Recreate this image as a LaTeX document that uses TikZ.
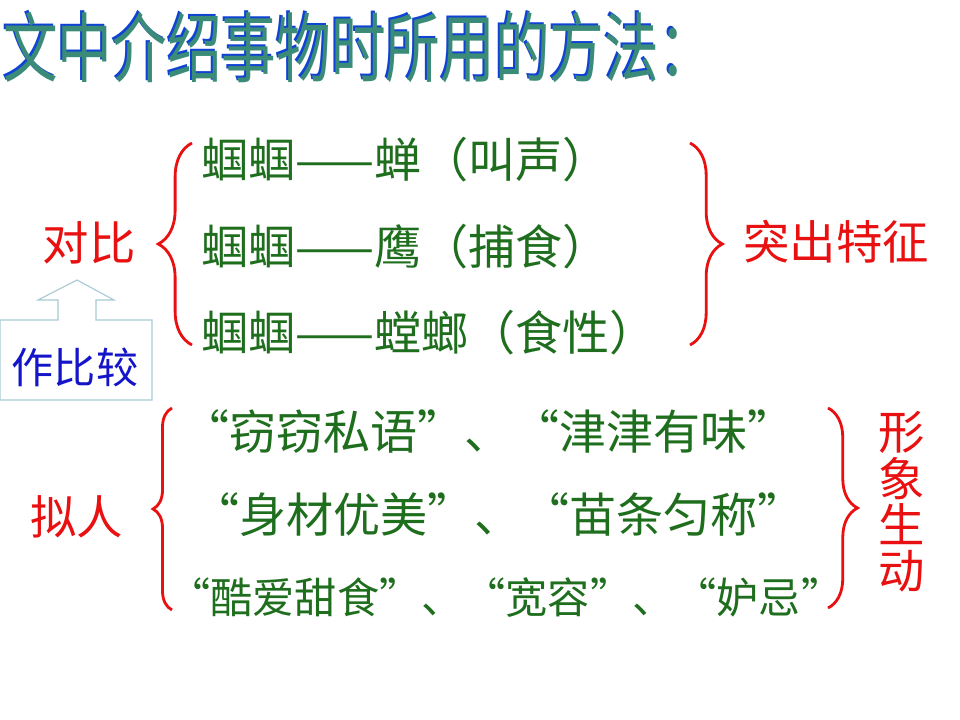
\documentclass[tikz,border=0pt]{standalone}
\usepackage{xcolor}
\usepackage{fontspec}
\setmainfont{Noto Sans CJK SC}
\usetikzlibrary{decorations.pathreplacing, positioning, calc}

\definecolor{lue}{HTML}{1E6E1E}
\definecolor{cerv}{HTML}{E81010}
\definecolor{modr}{HTML}{1414C8}
\definecolor{tyrk}{HTML}{3A8C78}
\definecolor{ramec}{HTML}{A8CAD4}

\tikzset{
  radek/.style={anchor=west, text=lue, inner sep=0pt, font=\fontsize{33.5}{38}\selectfont},
  pojem/.style={text=cerv, inner sep=0pt, font=\fontsize{33}{38}\selectfont},
  zavorka/.style={draw=cerv, line width=2pt, decorate, decoration={brace, amplitude=#1}}
}

\begin{document}
\begin{tikzpicture}[x=0.025cm, y=-0.025cm]
  \useasboundingbox (0,0) rectangle (960,720);

  % Nadpis
  \node[anchor=west, text=modr!80!cyan, inner sep=0pt, xscale=0.72,
        font=\fontsize{54}{58}\selectfont] (nadpisS) at (1,46) {文中介绍事物时所用的方法：};
  \node[anchor=west, text=tyrk, inner sep=0pt, xscale=0.72,
        font=\fontsize{54}{58}\selectfont] (nadpis) at (3,48) {文中介绍事物时所用的方法：};

  % Srovnani
  \node[radek] (r1) at (201,160) {蝈蝈——蝉（叫声）};
  \node[radek] (r2) at (201,247) {蝈蝈——鹰（捕食）};
  \node[radek] (r3) at (201,333) {蝈蝈——螳螂（食性）};
  \draw[zavorka=24pt] (192,345) -- (192,143);
  \draw[zavorka=23pt] (690,143) -- (690,345);
  \node[pojem] (dui) at (89,243) {对比};
  \node[pojem, anchor=west] (tu) at (743,242) {突出特征};

  % Ramecek se sipkou
  \draw[ramec, line width=0.8pt] (0,320) -- (58,320) -- (58,300) -- (38,300) -- (77,280)
    -- (114,300) -- (96,300) -- (96,320) -- (152,320) -- (152,400) -- (0,400) -- cycle;
  \node[text=modr, inner sep=0pt, font=\fontsize{30}{36}\selectfont] (zuo) at (75,367) {作比较};

  % Personifikace
  \node[radek] (p1) at (182,432) {“窃窃私语”、“津津有味”};
  \node[radek] (p2) at (192,515) {“身材优美”、“苗条匀称”};
  \node[radek, font=\fontsize{30}{34}\selectfont] (p3) at (168,598) {“酷爱甜食”、“宽容”、“妒忌”};
  \draw[zavorka=13.5pt] (172,610) -- (172,408);
  \draw[zavorka=21pt] (828,408) -- (828,608);
  \node[pojem] (ni) at (77,517) {拟人};
  \node[pojem, align=center, font=\fontsize{33}{33}\selectfont] (xing) at (902,502) {形\\象\\生\\动};
\end{tikzpicture}
\end{document}
